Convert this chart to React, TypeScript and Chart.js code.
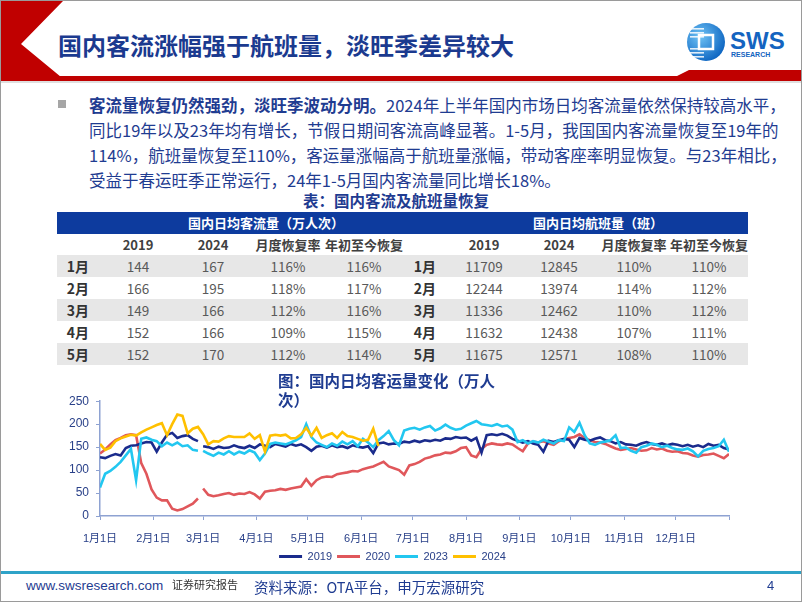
import React, { useEffect, useRef } from "react";
import { Chart, registerables } from "chart.js";

Chart.register(...registerables);

// ---------- chart data ----------
const sampleStepDays = 3; // readings taken every 3 days from 1月1日
const gapDay = 59; // 2月29日 (missing in non-leap series)
const monthTickDays = [0, 31, 60, 91, 121, 152, 182, 213, 244, 274, 305, 335];
const monthTickLabels = ["1月1日", "2月1日", "3月1日", "4月1日", "5月1日", "6月1日", "7月1日", "8月1日", "9月1日", "10月1日", "11月1日", "12月1日"];
const axisEndDay = 366;
const yTicks = [0, 50, 100, 150, 200, 250];
const seriesNames = ["2019", "2020", "2023", "2024"];

const pax2019Daily = [
  128, 126, 131, 135, 132, 148, 153, 154, 158, 161, 160, 140, 160, 177, 181, 170, 174, 176, 168, 163,
  152, 150, 146, 151, 148, 149, 154, 150, 148, 153, 148, 156, 153, 150, 157, 154, 151, 157, 153, 156,
  150, 142, 151, 153, 149, 154, 150, 152, 148, 154, 151, 149, 152, 137, 158, 160, 156, 158, 157, 162,
  160, 164, 161, 165, 163, 166, 164, 169, 168, 172, 170, 171, 164, 170, 138, 176, 178, 176, 179, 175,
  168, 164, 160, 163, 158, 155, 140, 164, 161, 165, 168, 166, 150, 170, 166, 164, 168, 171, 165, 163,
  158, 161, 156, 155, 153, 158, 161, 157, 155, 158, 154, 157, 155, 152, 155, 151, 154, 150, 157, 153,
  155, 148, 145,
];
const pax2020Daily = [
  136, 145, 156, 165, 170, 176, 178, 176, 115, 92, 58, 40, 34, 34, 16, 12, 15, 21, 27, 38,
  60, 46, 43, 45, 48, 50, 46, 49, 48, 52, 47, 38, 53, 55, 56, 59, 57, 60, 62, 64,
  80, 66, 78, 84, 86, 85, 91, 93, 95, 98, 97, 102, 105, 108, 113, 118, 108, 104, 100, 90,
  110, 113, 118, 125, 128, 132, 134, 138, 137, 141, 148, 150, 132, 128, 146, 155, 158, 156, 155, 158,
  156, 148, 141, 158, 162, 160, 163, 158, 155, 163, 167, 170, 172, 178, 170, 165, 161, 160, 157, 152,
  147, 144, 146, 148, 145, 142, 143, 148, 145, 147, 142, 140, 141, 137, 136, 132, 129, 133, 134, 136,
  131, 126, 135,
];
const pax2023Daily = [
  62, 92, 98, 107, 118, 132, 146, 78, 168, 171, 166, 163, 152, 160, 154, 160, 152, 154, 144, 142,
  142, 136, 131, 138, 134, 141, 134, 140, 136, 143, 138, 122, 136, 157, 160, 158, 156, 160, 165, 172,
  200, 172, 160, 155, 150, 158, 153, 162, 156, 163, 152, 168, 160, 150, 165, 174, 185, 165, 154, 186,
  190, 192, 188, 193, 196, 186, 191, 199, 192, 188, 190, 197, 202, 207, 200, 198, 196, 200, 195, 197,
  188, 161, 165, 158, 163, 160, 166, 162, 158, 165, 163, 193, 183, 203, 176, 158, 155, 160, 162, 165,
  176, 148, 149, 142, 138, 150, 153, 158, 155, 150, 153, 148, 145, 144, 147, 141, 130, 142, 146, 148,
  152, 166, 140,
];
const pax2024Daily = [
  157, 144, 149, 163, 169, 173, 177, 175, 182, 188, 193, 198, 202, 176, 200, 221, 218, 180, 190, 194,
  178, 156, 163, 162, 169, 174, 172, 172, 172, 180, 168, 176, 140, 175, 177, 175, 177, 169, 170, 178,
  192, 175, 192, 170, 176, 180, 170, 183, 174, 172, 168, 164, 166, 190, 152,
];

// ---------- table data ----------
const tableMonths = ["1月", "2月", "3月", "4月", "5月"];
const tableColHeaders = ["2019", "2024", "月度恢复率", "年初至今恢复"];
const pax2019Month = [144, 166, 149, 152, 152];
const pax2024Month = [167, 195, 166, 166, 170];
const paxMonthRecovery = ["116%", "118%", "112%", "109%", "112%"];
const paxYtdRecovery = ["116%", "117%", "116%", "115%", "114%"];
const flt2019Month = [11709, 12244, 11336, 11632, 11675];
const flt2024Month = [12845, 13974, 12462, 12438, 12571];
const fltMonthRecovery = ["110%", "114%", "110%", "107%", "108%"];
const fltYtdRecovery = ["110%", "112%", "112%", "111%", "110%"];

// ---------- styles ----------
const CJK = "'Noto Sans CJK SC', 'Noto Sans', sans-serif";
const LATIN = "'Liberation Sans', 'Noto Sans CJK SC', sans-serif";
const BLUE_TEXT = "#1F3C91";
const AXIS = "#8EA2D2";
const TICK_TEXT = "#2A4189";
const COLORS = ["#1A2B8C", "#E0575B", "#22C7F0", "#FFC000"];
const ORDERS = [2, 3, 1, 0];

function toPoints(values: number[], withGap: boolean) {
  const pts: { x: number; y: number | null }[] = [];
  values.forEach((v, i) => {
    const d = i * sampleStepDays;
    if (withGap && d > gapDay && pts.length && (pts[pts.length - 1].x as number) < gapDay) {
      pts.push({ x: gapDay, y: null });
    }
    pts.push({ x: d, y: v });
  });
  return pts;
}

function PaxChart() {
  const ref = useRef<HTMLCanvasElement | null>(null);
  useEffect(() => {
    if (!ref.current) return;
    const seriesValues = [pax2019Daily, pax2020Daily, pax2023Daily, pax2024Daily];
    const gaps = [true, true, true, false];
    const chart = new Chart(ref.current, {
      type: "line",
      data: {
        datasets: seriesNames.map((name, i) => ({
          label: name,
          data: toPoints(seriesValues[i], gaps[i]),
          borderColor: COLORS[i],
          backgroundColor: COLORS[i],
          borderWidth: 2.6,
          pointRadius: 0,
          fill: false,
          tension: 0,
          spanGaps: false,
          order: ORDERS[i],
        })),
      },
      options: {
        responsive: false,
        animation: false,
        layout: { padding: { top: 10, right: 23, left: 0, bottom: 0 } },
        scales: {
          x: {
            type: "linear",
            min: 0,
            max: axisEndDay,
            afterBuildTicks: (s: any) => {
              s.ticks = [...monthTickDays, axisEndDay].map((v) => ({ value: v }));
            },
            afterFit: (s: any) => {
              s.height = 30;
            },
            ticks: {
              autoSkip: false,
              maxRotation: 0,
              padding: 12,
              color: TICK_TEXT,
              font: { family: LATIN, size: 11 },
              callback: (v: any) => {
                const idx = monthTickDays.indexOf(Number(v));
                return idx >= 0 ? monthTickLabels[idx] : "";
              },
            },
            grid: { drawOnChartArea: false, tickLength: 4, color: AXIS, lineWidth: 1 },
            border: { color: AXIS, width: 1.5 },
          },
          y: {
            min: 0,
            max: 250,
            afterBuildTicks: (s: any) => {
              s.ticks = yTicks.map((v) => ({ value: v }));
            },
            ticks: { padding: 7, color: TICK_TEXT, font: { family: LATIN, size: 12 } },
            grid: { drawOnChartArea: false, tickLength: 4, color: AXIS, lineWidth: 1 },
            border: { color: AXIS, width: 1.5 },
            afterFit: (s: any) => {
              s.width = 44;
            },
          },
        },
        plugins: {
          tooltip: { enabled: false },
          legend: {
            position: "bottom",
            labels: {
              boxWidth: 23,
              boxHeight: 3,
              padding: 5,
              color: TICK_TEXT,
              font: { family: LATIN, size: 11 },
              sort: (a: any, b: any) => a.datasetIndex - b.datasetIndex,
              generateLabels: (c: any) =>
                (Chart.defaults.plugins.legend.labels.generateLabels as any)(c).map((l: any) => ({
                  ...l,
                  lineWidth: 0,
                  fillStyle: l.strokeStyle,
                })),
            },
          },
        },
      } as any,
    });
    return () => chart.destroy();
  }, []);
  return (
    <canvas
      ref={ref}
      width={696}
      height={185}
      style={{ position: "absolute", left: 55, top: 386, width: 696, height: 185 }}
    />
  );
}

const abs = (s: React.CSSProperties): React.CSSProperties => ({ position: "absolute", ...s });

function Cell({ x, y, text, bold, color, size }: { x: number; y: number; text: string; bold?: boolean; color?: string; size?: number }) {
  return (
    <div
      style={abs({
        left: x - 60,
        top: y,
        width: 120,
        height: 22,
        lineHeight: "22px",
        textAlign: "center",
        fontSize: size ?? 13.5,
        fontWeight: bold ? 700 : 400,
        color: color ?? "#595959",
        fontFamily: CJK,
        whiteSpace: "nowrap",
      })}
    >
      {text}
    </div>
  );
}

function DataTable() {
  const top = 211;
  const rowH = 22;
  const left = 56;
  const right = 747;
  const leftCols = [137, 212, 287, 363];
  const rightCols = [483, 558, 633, 708];
  const els: React.ReactNode[] = [];
  els.push(
    <div key="hdr" style={abs({ left, top, width: right - left, height: rowH, background: "#0D3B9E" })} />
  );
  els.push(<Cell key="h1" x={247} y={top} text="国内日均客流量（万人次）" bold color="#FFFFFF" size={13} />);
  els.push(<Cell key="h2" x={592} y={top} text="国内日均航班量（班）" bold color="#FFFFFF" size={13} />);
  const y2 = top + rowH;
  tableColHeaders.forEach((h, i) => {
    els.push(<Cell key={"lc" + i} x={leftCols[i]} y={y2} text={h} bold color="#404040" size={13} />);
    els.push(<Cell key={"rc" + i} x={rightCols[i]} y={y2} text={h} bold color="#404040" size={13} />);
  });
  tableMonths.forEach((m, r) => {
    const y = top + rowH * (r + 2) - 1;
    if (r % 2 === 0) {
      els.push(<div key={"bg" + r} style={abs({ left, top: y, width: right - left, height: rowH, background: "#E7E7E7" })} />);
    }
    els.push(<Cell key={"lm" + r} x={77} y={y} text={m} bold color="#333333" size={14} />);
    els.push(<Cell key={"rm" + r} x={424} y={y} text={m} bold color="#333333" size={14} />);
    const lv = [String(pax2019Month[r]), String(pax2024Month[r]), paxMonthRecovery[r], paxYtdRecovery[r]];
    const rv = [String(flt2019Month[r]), String(flt2024Month[r]), fltMonthRecovery[r], fltYtdRecovery[r]];
    lv.forEach((t, i) => els.push(<Cell key={`l${r}-${i}`} x={leftCols[i]} y={y} text={t} />));
    rv.forEach((t, i) => els.push(<Cell key={`r${r}-${i}`} x={rightCols[i]} y={y} text={t} />));
  });
  return <>{els}</>;
}

function Header() {
  return (
    <>
      <svg width={802} height={82} style={abs({ left: 0, top: 0 })}>
        <polygon points="0,0 62,0 20,43 60,76 0,76" fill="#C00000" />
        <polygon points="0,75 676,75 688,69 802,69 802,80 0,80" fill="#C00000" />
        <line x1={0} y1={81} x2={802} y2={81} stroke="#BFBFBF" strokeWidth={1} />
      </svg>
      <div
        style={abs({
          left: 57,
          top: 30,
          fontSize: 24,
          lineHeight: "28px",
          fontWeight: 700,
          color: "#1B3A8F",
          fontFamily: CJK,
          whiteSpace: "nowrap",
        })}
      >
        国内客流涨幅强于航班量，淡旺季差异较大
      </div>
      <svg width={110} height={44} style={abs({ left: 684, top: 19 })}>
        <defs>
          <radialGradient id="lg" cx="35%" cy="35%" r="70%">
            <stop offset="0%" stopColor="#6FC3F5" />
            <stop offset="100%" stopColor="#0E66C2" />
          </radialGradient>
        </defs>
        <circle cx={21} cy={22} r={19} fill="url(#lg)" />
        {[8, 12, 16, 28, 32, 36].map((yy) => (
          <rect key={yy} x={5} y={yy} width={14} height={1.6} fill="#FFFFFF" opacity={0.85} />
        ))}
        <rect x={14} y={15} width={14} height={14} fill="none" stroke="#FFFFFF" strokeWidth={2.5} />
        <text x={45} y={29} fontFamily={LATIN} fontWeight={700} fontSize={24} fill="#1464C0">
          SWS
        </text>
        <text x={46} y={37} fontFamily={LATIN} fontWeight={700} fontSize={7} fill="#1464C0">
          RESEARCH
        </text>
      </svg>
    </>
  );
}

function Bullet() {
  return (
    <>
      <div style={abs({ left: 57, top: 99, width: 8, height: 8, background: "#A6A6A6" })} />
      <div
        style={abs({
          left: 88,
          top: 92,
          fontSize: 16.5,
          lineHeight: "25px",
          color: BLUE_TEXT,
          fontFamily: CJK,
          whiteSpace: "nowrap",
        })}
      >
        <b>客流量恢复仍然强劲，淡旺季波动分明。</b>2024年上半年国内市场日均客流量依然保持较高水平，
        <br />
        同比19年以及23年均有增长，节假日期间客流高峰显著。1-5月，我国国内客流量恢复至19年的
        <br />
        114%，航班量恢复至110%，客运量涨幅高于航班量涨幅，带动客座率明显恢复。与23年相比，
        <br />
        受益于春运旺季正常运行，24年1-5月国内客流量同比增长18%。
      </div>
    </>
  );
}

function Footer() {
  return (
    <>
      <div style={abs({ left: 0, top: 570, width: 802, height: 3, background: "#2FA3C8" })} />
      <div style={abs({ left: 25, top: 577, fontSize: 13.5, color: BLUE_TEXT, fontFamily: LATIN, whiteSpace: "nowrap" })}>
        www.swsresearch.com
      </div>
      <div style={abs({ left: 171, top: 575, fontSize: 11, color: "#333333", fontFamily: CJK, whiteSpace: "nowrap" })}>
        证券研究报告
      </div>
      <div style={abs({ left: 253, top: 575, fontSize: 14.5, color: BLUE_TEXT, fontFamily: CJK, whiteSpace: "nowrap" })}>
        资料来源：OTA平台，申万宏源研究
      </div>
      <div style={abs({ left: 766, top: 577, fontSize: 13, color: BLUE_TEXT, fontFamily: LATIN })}>4</div>
    </>
  );
}

export default function App() {
  return (
    <div
      style={{
        position: "absolute",
        left: 0,
        top: 0,
        width: 802,
        height: 602,
        overflow: "hidden",
        background: "#FFFFFF",
        boxSizing: "border-box",
        border: "1px solid #9A9A9A",
        fontFamily: CJK,
      }}
    >
      <Header />
      <Bullet />
      <div
        style={abs({
          left: 0,
          width: 800,
          top: 189,
          textAlign: "center",
          fontSize: 15.5,
          lineHeight: "20px",
          fontWeight: 700,
          color: BLUE_TEXT,
          fontFamily: CJK,
        })}
      >
        <span style={{ position: "relative", left: -5 }}>表：国内客流及航班量恢复</span>
      </div>
      <DataTable />
      <PaxChart />
      <div
        style={abs({
          left: 277,
          top: 370,
          fontSize: 15.5,
          lineHeight: "19px",
          fontWeight: 700,
          color: BLUE_TEXT,
          fontFamily: CJK,
          whiteSpace: "nowrap",
          zIndex: 2,
        })}
      >
        图：国内日均客运量变化（万人
        <br />
        次）
      </div>
      <Footer />
    </div>
  );
}
